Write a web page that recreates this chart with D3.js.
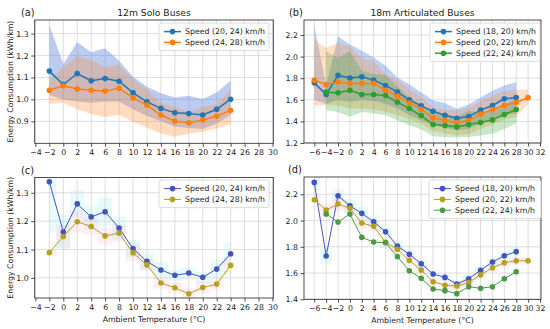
<!DOCTYPE html>
<html>
<head>
<meta charset="utf-8">
<script src="https://cdn.jsdelivr.net/npm/d3@7"></script>
<style>
  body { margin: 0; background: #fff; }
  svg text { font-family: "DejaVu Sans", sans-serif; fill: #222; }
</style>
</head>
<body>
<svg id="fig" width="550" height="329"></svg>
<script>
// ---- data ----
const tempSolo = [-2, 0, 2, 4, 6, 8, 10, 12, 14, 16, 18, 20, 22, 24];
const soloMeanA = [1.129, 1.068, 1.118, 1.085, 1.095, 1.083, 1.030, 0.989, 0.959, 0.939, 0.936, 0.929, 0.955, 1.001];
const soloMeanB = [1.042, 1.062, 1.048, 1.042, 1.038, 1.051, 1.007, 0.974, 0.929, 0.901, 0.894, 0.906, 0.924, 0.950];
const soloLowA = [1.020, 1.000, 0.990, 0.985, 0.990, 0.990, 0.955, 0.925, 0.900, 0.875, 0.870, 0.865, 0.890, 0.930];
const soloLowB = [0.980, 0.985, 0.955, 0.935, 0.920, 0.930, 0.898, 0.871, 0.845, 0.830, 0.845, 0.853, 0.868, 0.888];
const soloHighA = [1.339, 1.162, 1.261, 1.215, 1.233, 1.176, 1.103, 1.058, 1.028, 1.009, 1.017, 1.002, 1.031, 1.085];
const soloHighB = [1.089, 1.146, 1.198, 1.181, 1.148, 1.158, 1.088, 1.046, 0.982, 0.965, 0.944, 0.966, 0.978, 1.044];
// faint spread behind panel (c)
const soloSpreadA = [0.18, 0.06, 0.05, 0.04, 0.05, 0.04, 0.03, 0.03, 0.03, 0.02, 0.02, 0.02, 0.03, 0.04];
const soloSpreadB = [0.012, 0.04, 0.04, 0.03, 0.03, 0.03, 0.03, 0.02, 0.02, 0.02, 0.02, 0.02, 0.02, 0.03];

const tempArtA = [-6, -4, -2, 0, 2, 4, 6, 8, 10, 12, 14, 16, 18, 20, 22, 24, 26, 28];
const tempArtB = [-6, -4, -2, 0, 2, 4, 6, 8, 10, 12, 14, 16, 18, 20, 22, 24, 26, 28, 30];
const tempArtC = [-4, -2, 0, 2, 4, 6, 8, 10, 12, 14, 16, 18, 20, 22, 24, 26, 28];
const artMeanA = [1.757, 1.649, 1.826, 1.801, 1.813, 1.782, 1.733, 1.671, 1.599, 1.544, 1.494, 1.457, 1.429, 1.445, 1.504, 1.547, 1.609, 1.621];
const artMeanB = [1.782, 1.742, 1.764, 1.752, 1.752, 1.752, 1.689, 1.634, 1.571, 1.513, 1.432, 1.411, 1.386, 1.408, 1.467, 1.510, 1.550, 1.575, 1.621];
const artMeanC = [1.671, 1.665, 1.689, 1.649, 1.649, 1.640, 1.578, 1.519, 1.454, 1.371, 1.362, 1.349, 1.371, 1.389, 1.414, 1.464, 1.510];
const artLowA = [1.60, 1.56, 1.60, 1.58, 1.60, 1.59, 1.56, 1.52, 1.46, 1.41, 1.37, 1.34, 1.32, 1.33, 1.38, 1.41, 1.46, 1.47];
const artLowB = [1.55, 1.55, 1.55, 1.52, 1.52, 1.51, 1.49, 1.46, 1.42, 1.38, 1.31, 1.29, 1.27, 1.28, 1.33, 1.37, 1.42, 1.44, 1.56];
const artLowC = [1.504, 1.488, 1.442, 1.488, 1.473, 1.457, 1.411, 1.364, 1.324, 1.262, 1.256, 1.250, 1.256, 1.270, 1.285, 1.330, 1.380];
const artHighA = [2.291, 1.730, 2.189, 2.113, 2.055, 1.991, 1.915, 1.806, 1.743, 1.671, 1.593, 1.567, 1.517, 1.557, 1.621, 1.684, 1.732, 1.763];
const artHighB = [2.159, 2.080, 2.126, 2.093, 1.981, 1.956, 1.834, 1.781, 1.697, 1.623, 1.534, 1.507, 1.501, 1.527, 1.587, 1.641, 1.679, 1.694, 1.694];
const artHighC = [2.050, 1.989, 2.050, 1.872, 1.836, 1.831, 1.725, 1.618, 1.560, 1.478, 1.466, 1.443, 1.496, 1.484, 1.496, 1.557, 1.610];
// faint spread behind panel (d)
const artSpreadA = [0.06, 0.06, 0.05, 0.05, 0.05, 0.04, 0.04, 0.04, 0.03, 0.03, 0.03, 0.03, 0.03, 0.03, 0.03, 0.03, 0.03, 0.04];
const artSpreadB = [0.05, 0.05, 0.05, 0.04, 0.04, 0.04, 0.04, 0.03, 0.03, 0.03, 0.03, 0.03, 0.03, 0.03, 0.03, 0.03, 0.03, 0.03, 0.03];

const soloLabels = ["Speed (20, 24) km/h", "Speed (24, 28) km/h"];
const artLabels = ["Speed (18, 20) km/h", "Speed (20, 22) km/h", "Speed (22, 24) km/h"];

const ticksSoloX = d3.range(-4, 31, 2);
const ticksArtX = d3.range(-6, 33, 2);
const ticksA = [0.9, 1.0, 1.1, 1.2, 1.3];
const ticksB = [1.2, 1.4, 1.6, 1.8, 2.0, 2.2];
const ticksC = [1.0, 1.1, 1.2, 1.3];
const ticksD = [1.4, 1.6, 1.8, 2.0, 2.2];

const svg = d3.select("#fig");

function drawPanel(p) {
    const g = svg.append("g");
    const x = d3.scaleLinear().domain(p.xDomain).range([p.left, p.right]);
    const y = d3.scaleLinear().domain(p.yDomain).range([p.bottom, p.top]);

    const clipId = "clip" + p.tag.replace(/\W/g, "");
    svg.append("clipPath").attr("id", clipId).append("rect")
        .attr("x", p.left).attr("y", p.top)
        .attr("width", p.right - p.left).attr("height", p.bottom - p.top);

    // faint step spreads (behind everything)
    (p.steps || []).forEach(function(b){
        const area = d3.area().curve(d3.curveStep)
            .x((d, i) => x(b.x[i]))
            .y0((d, i) => y(b.y[i] - b.e[i]))
            .y1((d, i) => y(b.y[i] + b.e[i]));
        g.append("path").datum(b.x).attr("d", area).attr("clip-path", `url(#${clipId})`)
            .style("fill", b.color).style("opacity", b.opacity);
    });

    // grid
    g.selectAll(".gx").data(p.xTicks).enter().append("line")
        .attr("x1", d => x(d)).attr("x2", d => x(d))
        .attr("y1", p.top).attr("y2", p.bottom)
        .style("stroke", "#d4d4d4").style("stroke-width", 0.8);
    g.selectAll(".gy").data(p.yTicks).enter().append("line")
        .attr("x1", p.left).attr("x2", p.right)
        .attr("y1", d => y(d)).attr("y2", d => y(d))
        .style("stroke", "#d4d4d4").style("stroke-width", 0.8);

    // bands
    (p.bands || []).forEach(function(b){
        const area = d3.area()
            .x((d, i) => x(b.x[i]))
            .y0((d, i) => y(b.lo[i]))
            .y1((d, i) => y(b.hi[i]));
        g.append("path").datum(b.x).attr("d", area)
            .style("fill", b.color).style("opacity", b.opacity);
    });

    // lines + markers
    p.series.forEach(function(s){
        const line = d3.line().x((d, i) => x(s.x[i])).y(d => y(d));
        g.append("path").datum(s.y).attr("d", line)
            .style("fill", "none").style("stroke", s.color).style("stroke-width", s.width);
        g.selectAll(null).data(s.y).enter().append("circle")
            .attr("cx", (d, i) => x(s.x[i])).attr("cy", d => y(d))
            .attr("r", 2.8).style("fill", s.color);
    });

    // axes
    const xAxis = d3.axisBottom(x).tickValues(p.xTicks).tickFormat(d3.format("d"))
        .tickSize(3.5).tickPadding(2.5);
    const yAxis = d3.axisLeft(y).tickValues(p.yTicks).tickFormat(d3.format(".1f"))
        .tickSize(3.5).tickPadding(2.5);
    const ax = g.append("g").attr("transform", `translate(0, ${p.bottom})`).call(xAxis);
    const ay = g.append("g").attr("transform", `translate(${p.left}, 0)`).call(yAxis);
    [ax, ay].forEach(function(a){
        a.select(".domain").remove();
        a.selectAll("line").style("stroke", "#222").style("stroke-width", 0.8);
        a.selectAll("text").style("font-size", "7.8px").style("font-family", "DejaVu Sans").style("fill", "#222");
    });

    // frame
    g.append("rect").attr("x", p.left).attr("y", p.top)
        .attr("width", p.right - p.left).attr("height", p.bottom - p.top)
        .style("fill", "none").style("stroke", "#222").style("stroke-width", 0.8);

    // legend
    const lg = g.append("g");
    lg.append("rect").attr("x", p.legend.x).attr("y", p.legend.y)
        .attr("width", p.legend.w).attr("height", 6 + 10.8 * p.series.length)
        .attr("rx", 2).style("fill", "#fff").style("fill-opacity", 0.85)
        .style("stroke", "#d0d0d0").style("stroke-width", 0.8);
    p.series.forEach(function(s, i){
        const yy = p.legend.y + 8.6 + 10.8 * i;
        lg.append("line").attr("x1", p.legend.x + 5).attr("x2", p.legend.x + 22)
            .attr("y1", yy).attr("y2", yy)
            .style("stroke", s.color).style("stroke-width", s.width);
        lg.append("circle").attr("cx", p.legend.x + 13.5).attr("cy", yy).attr("r", 2.8)
            .style("fill", s.color);
        lg.append("text").attr("x", p.legend.x + 26).attr("y", yy + 2.8)
            .style("font-size", "7.8px").text(s.label);
    });

    // titles / labels
    g.append("text").attr("x", p.tagX).attr("y", p.top - 4)
        .style("font-size", "9.8px").text(p.tag);
    if (p.title) {
        g.append("text").attr("x", (p.left + p.right) / 2).attr("y", p.top - 4.5)
            .attr("text-anchor", "middle").style("font-size", "9.2px").text(p.title);
    }
    if (p.yLabel) {
        const cy = (p.top + p.bottom) / 2;
        g.append("text").attr("transform", `translate(12.5, ${cy}) rotate(-90)`)
            .attr("text-anchor", "middle").style("font-size", "7.8px").text(p.yLabel);
    }
    if (p.xLabel) {
        g.append("text").attr("x", (p.left + p.right) / 2).attr("y", p.bottom + 24)
            .attr("text-anchor", "middle").style("font-size", "7.8px").text(p.xLabel);
    }
}

const BLUE = "#1f77b4", ORANGE = "#ff7f0e", GREEN = "#2ca02c";
const C_BLUE = "#4453bd", C_OLIVE = "#b5a11d", C_GREEN = "#4b9a45";

drawPanel({
    tag: "(a)", tagX: 21, title: "12m Solo Buses", yLabel: "Energy Consumption (kWh/km)",
    left: 34.7, right: 273.3, top: 20, bottom: 143.3,
    xDomain: [-4.1, 30.12], yDomain: [0.8, 1.362],
    xTicks: ticksSoloX, yTicks: ticksA,
    bands: [
        {x: tempSolo, lo: soloLowA, hi: soloHighA, color: "#6a8ee0", opacity: 0.45},
        {x: tempSolo, lo: soloLowB, hi: soloHighB, color: "#ff8c30", opacity: 0.3}
    ],
    series: [
        {x: tempSolo, y: soloMeanA, color: BLUE, width: 1.5, label: soloLabels[0]},
        {x: tempSolo, y: soloMeanB, color: ORANGE, width: 1.5, label: soloLabels[1]}
    ],
    legend: {x: 159, y: 23, w: 110}
});

drawPanel({
    tag: "(b)", tagX: 289, title: "18m Articulated Buses",
    left: 304, right: 541, top: 20, bottom: 143,
    xDomain: [-7.73, 32.17], yDomain: [1.2, 2.339],
    xTicks: ticksArtX, yTicks: ticksB,
    bands: [
        {x: tempArtA, lo: artLowA, hi: artHighA, color: "#6a8ee0", opacity: 0.42},
        {x: tempArtB, lo: artLowB, hi: artHighB, color: "#ff8c30", opacity: 0.28},
        {x: tempArtC, lo: artLowC, hi: artHighC, color: GREEN, opacity: 0.25}
    ],
    series: [
        {x: tempArtA, y: artMeanA, color: BLUE, width: 1.5, label: artLabels[0]},
        {x: tempArtB, y: artMeanB, color: ORANGE, width: 1.5, label: artLabels[1]},
        {x: tempArtC, y: artMeanC, color: GREEN, width: 1.5, label: artLabels[2]}
    ],
    legend: {x: 430, y: 23, w: 110}
});

drawPanel({
    tag: "(c)", tagX: 21, yLabel: "Energy Consumption (kWh/km)", xLabel: "Ambient Temperature (°C)",
    left: 34.7, right: 273.3, top: 177.5, bottom: 298,
    xDomain: [-4.1, 30.12], yDomain: [0.929, 1.354],
    xTicks: ticksSoloX, yTicks: ticksC,
    steps: [
        {x: tempSolo, y: soloHighA, e: soloSpreadA, color: "#8ff0f0", opacity: 0.22},
        {x: tempSolo, y: soloHighB, e: soloSpreadB, color: "#ffb0c8", opacity: 0.22}
    ],
    series: [
        {x: tempSolo, y: soloHighA, color: C_BLUE, width: 1, label: soloLabels[0]},
        {x: tempSolo, y: soloHighB, color: C_OLIVE, width: 1, label: soloLabels[1]}
    ],
    legend: {x: 159, y: 180, w: 110}
});

drawPanel({
    tag: "(d)", tagX: 288, xLabel: "Ambient Temperature (°C)",
    left: 304, right: 541, top: 177, bottom: 299.3,
    xDomain: [-7.73, 32.17], yDomain: [1.4, 2.332],
    xTicks: ticksArtX, yTicks: ticksD,
    steps: [
        {x: tempArtA, y: artHighA, e: artSpreadA, color: "#8ff0f0", opacity: 0.22},
        {x: tempArtB, y: artHighB, e: artSpreadB, color: "#ffb0c8", opacity: 0.22}
    ],
    series: [
        {x: tempArtA, y: artHighA, color: C_BLUE, width: 1, label: artLabels[0]},
        {x: tempArtB, y: artHighB, color: C_OLIVE, width: 1, label: artLabels[1]},
        {x: tempArtC, y: artHighC, color: C_GREEN, width: 1, label: artLabels[2]}
    ],
    legend: {x: 429, y: 180, w: 112}
});
</script>
</body>
</html>
